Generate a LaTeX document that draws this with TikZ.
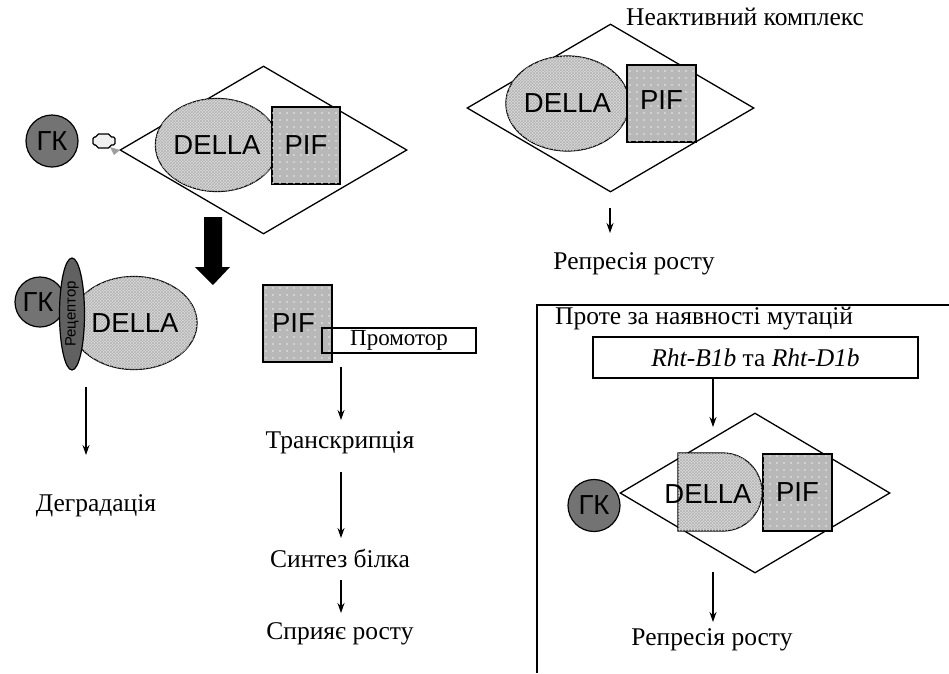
\documentclass[tikz,border=0pt]{standalone}
\usepackage{fontspec}
\setmainfont{Liberation Serif}
\newfontfamily\sansf{Liberation Sans}
\usetikzlibrary{shapes.geometric,arrows.meta,patterns}
\definecolor{gkc}{gray}{0.45}
\definecolor{recc}{gray}{0.38}
\definecolor{dellac}{gray}{0.86}
\definecolor{pifc}{gray}{0.72}
\pgfdeclarepatternformonly{sparsedots}{\pgfqpoint{-1pt}{-1pt}}{\pgfqpoint{1pt}{1pt}}{\pgfqpoint{7pt}{7pt}}{\pgfpathcircle{\pgfqpoint{0pt}{0pt}}{0.8pt}\pgfusepath{fill}}
\tikzset{
  lab/.style={font=\fontsize{25.5}{29}\selectfont, inner sep=0},
  sf/.style={font=\sansf\fontsize{27.5}{31}\selectfont},
  della/.style={ellipse, draw, line width=1.2, fill=dellac, postaction={pattern=crosshatch, pattern color=black!30}, inner sep=0, sf},
  pifbox/.style={rectangle, draw, line width=1.4, fill=pifc, postaction={pattern=sparsedots, pattern color=white!85!gray}, inner sep=0, sf},
  gk/.style={circle, draw, line width=1.2, fill=gkc, inner sep=0, minimum size=52, sf},
  cplx/.style={diamond, draw, line width=1.3, inner sep=0},
  arr/.style={-{Stealth[length=10pt,width=7pt]}, line width=1.2},
}
\begin{document}
\begin{tikzpicture}[x=1pt,y=-1pt]
\useasboundingbox (0,0) rectangle (949,673);
\fill[white] (0,0) rectangle (949,673);

% ---- top-left complex
\node[cplx, minimum width=287, minimum height=168] (cx1) at (263.5,150) {};
\node[della, minimum width=112, minimum height=93] (d1) at (217,145) {DELLA};
\node[pifbox, minimum width=68, minimum height=77] (p1) at (306,145.5) {PIF};
\node[gk] (g1) at (52,141) {ГК};
\draw[line width=1.3, fill=gray!12, rounded corners=1.5] (97,134) -- (110,134) -- (110,137) -- (115,137) -- (115,145) -- (110,145) -- (110,148) -- (97,148) -- (97,145) -- (93,145) -- (93,137) -- (97,137) -- cycle;
\fill[gray!75] (110,147) -- (120,150) -- (114,155) -- cycle;

% ---- big arrow
\fill[black] (204,217) -- (222,217) -- (222,267) -- (230,267) -- (213,285) -- (195,267) -- (204,267) -- cycle;

% ---- bottom-left: degradation
\node[gk, minimum size=50] (g2) at (40,302) {\kern-4pt ГК};
\node[della, minimum width=108, minimum height=93] (d2) at (134,323) {\kern2pt DELLA};
\node[ellipse, draw, line width=1.2, fill=recc, minimum width=25, minimum height=112, inner sep=0] (r2) at (72,314) {};
\node[rotate=90, font=\sansf\fontsize{15}{15}\selectfont, inner sep=0] (r2t) at (r2.center) {Рецептор};
\coordinate (a2s) at (86,387);
\coordinate (a2e) at (86,455);
\draw[arr] (a2s) -- (a2e);
\node[lab] (deg) at (96,506) {Деградація};

% ---- middle column
\node[pifbox, minimum width=69, minimum height=77] (p2) at (297.5,323.5) {\kern-8pt PIF};
\node[draw, line width=1.3, minimum width=154, minimum height=25, inner sep=0, font=\fontsize{23}{26}\selectfont] (pr) at (399,340.5) {Промотор};
\node[lab] (tr) at (340,443) {Транскрипція};
\node[lab] (syn) at (340,558) {Синтез білка};
\node[lab] (gro) at (340,634) {Сприяє росту};
\coordinate (m1s) at (341,367);
\coordinate (m1e) at (341,420);
\draw[arr] (m1s) -- (m1e);
\coordinate (m2s) at (341,472);
\coordinate (m2e) at (341,538);
\draw[arr] (m2s) -- (m2e);
\coordinate (m3s) at (341,580);
\coordinate (m3e) at (341,613);
\draw[arr] (m3s) -- (m3e);

% ---- top-right: inactive complex
\node[lab] (ttl) at (745,17) {Неактивний комплекс};
\node[cplx, minimum width=287, minimum height=168] (cx3) at (610.5,108) {};
\node[della, minimum width=119, minimum height=95] (d3) at (567.5,103.5) {DELLA};
\node[pifbox, minimum width=69, minimum height=77] (p3) at (661.5,103.5) {\raisebox{6pt}{PIF}};
\coordinate (t3s) at (610,208);
\coordinate (t3e) at (610,233);
\draw[arr] (t3s) -- (t3e);
\node[lab] (rep1) at (634,264) {Репресія росту};

% ---- right box: mutations
\draw[line width=1.3] (537,673) -- (537,305) -- (949,305);
\node[lab, anchor=west] (mut) at (555,319) {Проте за наявності мутацій};
\node[draw, line width=1.6, minimum width=325, minimum height=41, inner sep=0, font=\fontsize{25.5}{29}\selectfont] (rht) at (755.5,357.5) {\textit{Rht-B1b} та \textit{Rht-D1b}};
\node[cplx, minimum width=270, minimum height=160] (cx4) at (755,493) {};
\coordinate (r4e) at (713,427);
\draw[arr] (rht.south -| r4e) -- (r4e);
\draw[line width=1.2, fill=dellac, postaction={pattern=crosshatch, pattern color=black!30}] (678,453) -- (723,453) arc (-90:90:39) -- (678,531) -- cycle;
\node[sf, inner sep=0] (d4) at (708,494) {DELLA};
\node[pifbox, minimum width=69, minimum height=77] (p4) at (797.5,492.5) {PIF};
\node[gk] (g4) at (594,505.5) {ГК};
\coordinate (b4s) at (713,572);
\coordinate (b4e) at (713,622);
\draw[arr] (b4s) -- (b4e);
\node[lab] (rep2) at (712,640) {Репресія росту};
\end{tikzpicture}
\end{document}
